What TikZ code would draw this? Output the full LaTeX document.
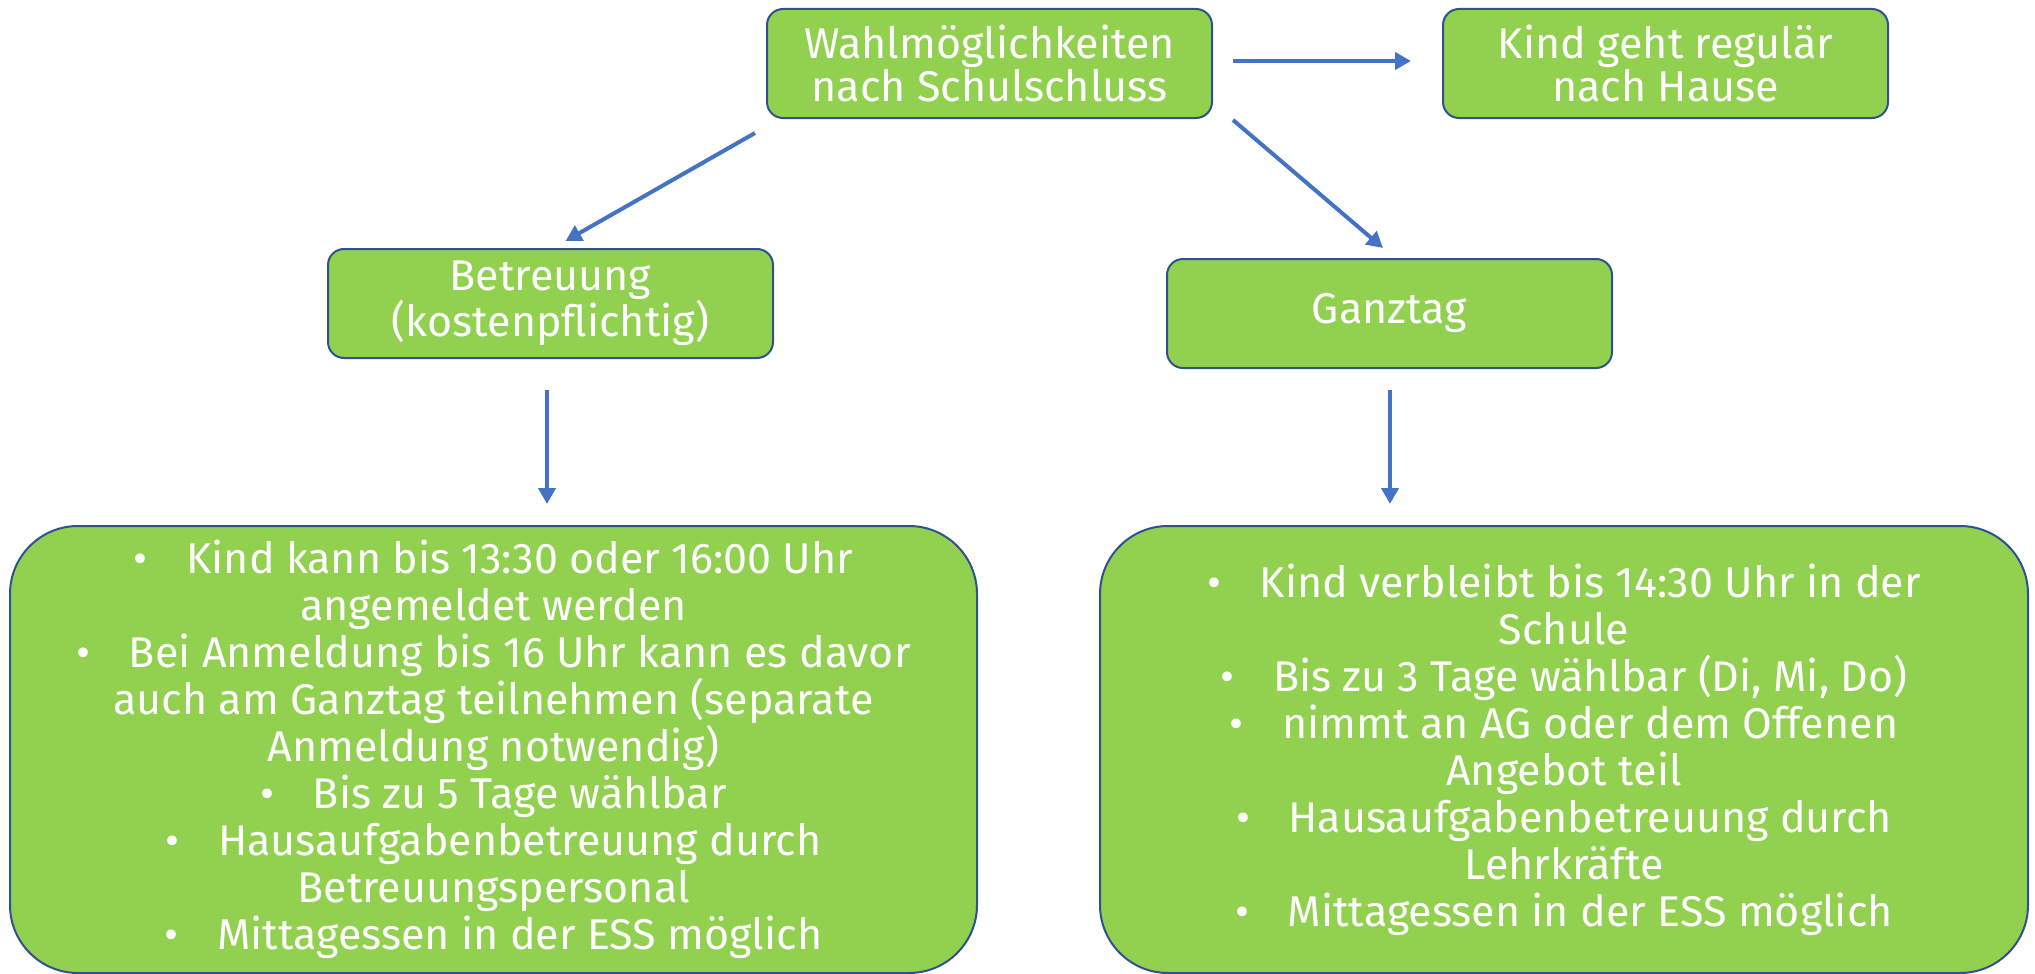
\documentclass[tikz,border=0pt]{standalone}
\usepackage{fontspec}
\setmainfont{Fira Sans}
\usetikzlibrary{arrows.meta}
\definecolor{boxfill}{HTML}{92D050}
\definecolor{boxline}{HTML}{2F528F}
\definecolor{arrowblue}{HTML}{4472C4}
\tikzset{
  box/.style={draw=boxline, line width=2pt, fill=boxfill, rounded corners=16pt,
    text=white, align=center, inner sep=0pt,
    font=\fontsize{43}{43}\selectfont},
  bigbox/.style={box, rounded corners=68pt, font=\fontsize{43}{47}\selectfont},
  arr/.style={draw=arrowblue, line width=4pt, -{Triangle[length=16pt,width=17pt]}}
}
\newcommand{\bul}{\textbullet\hspace{0.9em}}
\begin{document}
\begin{tikzpicture}[x=1pt,y=-1pt]
\useasboundingbox (0,0) rectangle (2035,974);
\node[box, minimum width=445pt, minimum height=109pt] (top) at (989.5,63.5)
  {Wahlmöglichkeiten\\nach Schulschluss};
\node[box, minimum width=445pt, minimum height=109pt] (kind) at (1665.5,63.5)
  {Kind geht regulär\\nach Hause};
\node[box, minimum width=445pt, minimum height=109pt] (betr) at (550.5,303.5)
  {Betreuung\\(kostenpflichtig)};
\node[box, minimum width=445pt, minimum height=109pt] (ganz) at (1389.5,313.5)
  {Ganztag};
\node[bigbox, minimum width=967pt, minimum height=447pt] (bl) at (493.5,749.5)
  {\bul Kind kann bis 13:30 oder 16:00 Uhr\\
   angemeldet werden\\
   \bul Bei Anmeldung bis 16 Uhr kann es davor\\
   auch am Ganztag teilnehmen (separate\\
   Anmeldung notwendig)\\
   \bul Bis zu 5 Tage wählbar\\
   \bul Hausaufgabenbetreuung durch\\
   Betreuungspersonal\\
   \bul Mittagessen in der ESS möglich};
\node[bigbox, minimum width=928pt, minimum height=447pt] (br) at (1564,749.5)
  {\bul Kind verbleibt bis 14:30 Uhr in der\\
   Schule\\
   \bul Bis zu 3 Tage wählbar (Di, Mi, Do)\\
   \bul nimmt an AG oder dem Offenen\\
   Angebot teil\\
   \bul Hausaufgabenbetreuung durch\\
   Lehrkräfte\\
   \bul Mittagessen in der ESS möglich};
\draw[arr] ([shift={(20pt,2.5pt)}]top.east) -- ([shift={(-31pt,2.5pt)}]kind.west);
\draw[arr] ([shift={(-11pt,-14pt)}]top.south west) -- ([shift={(15pt,7pt)}]betr.north);
\draw[arr] ([shift={(20pt,-1pt)}]top.south east) -- ([shift={(-6.5pt,10pt)}]ganz.north);
\draw[arr] ([shift={(-3.5pt,-31pt)}]betr.south) -- ([shift={(53.5pt,21pt)}]bl.north);
\draw[arr] ([shift={(0.5pt,-21pt)}]ganz.south) -- ([shift={(-174pt,21pt)}]br.north);
\end{tikzpicture}
\end{document}
